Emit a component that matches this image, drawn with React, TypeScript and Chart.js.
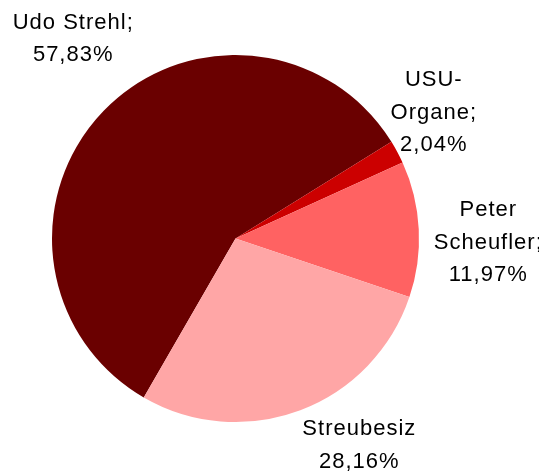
import React, { useEffect, useRef } from "react";
import { Chart, registerables } from "chart.js";

Chart.register(...registerables);

const categories = ["Udo Strehl", "USU-Organe", "Peter Scheufler", "Streubesiz"];
const shares = [57.83, 2.04, 11.97, 28.16];
const colors = ["#6A0000", "#CC0000", "#FF6262", "#FFA6A6"];
// how each category label is wrapped (as printed in the source chart)
const nameLines = [["Udo Strehl;"], ["USU-", "Organe;"], ["Peter", "Scheufler;"], ["Streubesiz"]];
// label block offsets from the slice's outer mid-point (x: centre of text, y: first baseline)
const labelOffsets = [
  { dx: -31, dy: -82 },
  { dx: 36, dy: -65.5 },
  { dx: 69, dy: -12.7 },
  { dx: 58.5, dy: 25 },
];

const fmt = (v: number) => v.toFixed(2).replace(".", ",") + "%";

const labelPlugin = {
  id: "sliceLabels",
  afterDraw(chart: any) {
    const ctx = chart.ctx;
    const meta = chart.getDatasetMeta(0);
    ctx.save();
    ctx.font = '22px "Liberation Sans", Arial, sans-serif';
    try {
      (ctx as any).letterSpacing = "1px";
    } catch (e) {}
    ctx.fillStyle = "#000000";
    ctx.textAlign = "center";
    ctx.textBaseline = "alphabetic";
    const lineH = 32.5;
    meta.data.forEach((arc: any, i: number) => {
      const { x, y, startAngle, endAngle, outerRadius } = arc.getProps(
        ["x", "y", "startAngle", "endAngle", "outerRadius"],
        true
      );
      const mid = (startAngle + endAngle) / 2;
      const ax = x + Math.cos(mid) * outerRadius + labelOffsets[i].dx;
      const ay = y + Math.sin(mid) * outerRadius + labelOffsets[i].dy;
      const lines = nameLines[i].slice();
      lines.push(fmt(shares[i]));
      lines.forEach((t, k) => {
        ctx.fillText(t, ax + 0.5, ay + k * lineH);
      });
    });
    ctx.restore();
  },
};

export default function App() {
  const ref = useRef<HTMLCanvasElement | null>(null);
  useEffect(() => {
    document.body.style.margin = "0";
    const chart = new Chart(ref.current as HTMLCanvasElement, {
      type: "pie",
      data: {
        labels: categories,
        datasets: [
          {
            data: shares,
            backgroundColor: colors,
            borderWidth: 0,
            hoverBorderWidth: 0,
            hoverOffset: 0,
            offset: 0,
          },
        ],
      },
      options: {
        responsive: false,
        animation: false,
        rotation: 210,
        layout: { padding: { left: 52, right: 120, top: 55, bottom: 50 } },
        plugins: {
          legend: { display: false },
          tooltip: { enabled: false },
        },
      },
      plugins: [labelPlugin],
    });
    return () => chart.destroy();
  }, []);
  return (
    <div style={{ position: "absolute", left: 0, top: 0, width: 539, height: 472, background: "#fff" }}>
      <canvas ref={ref} width={539} height={472} />
    </div>
  );
}
